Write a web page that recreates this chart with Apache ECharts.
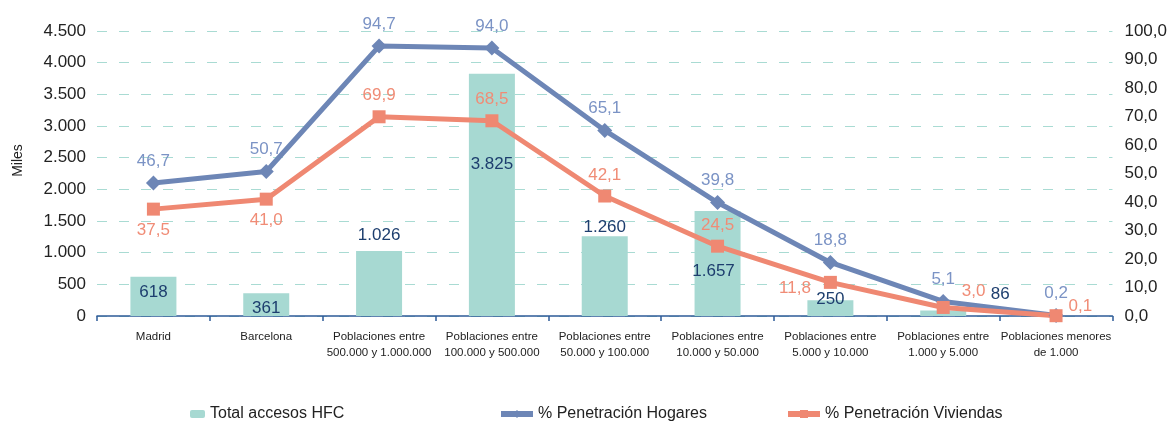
<!DOCTYPE html>
<html>
<head>
<meta charset="utf-8">
<script src="https://cdn.jsdelivr.net/npm/echarts@6/dist/echarts.min.js"></script>
<style>
  html, body { margin: 0; padding: 0; background: #fff; }
  #chart { width: 1170px; height: 422px; }
</style>
</head>
<body>
<div id="chart"></div>
<script>
const categories = [
  "Madrid",
  "Barcelona",
  "Poblaciones entre\n500.000 y 1.000.000",
  "Poblaciones entre\n100.000 y 500.000",
  "Poblaciones entre\n50.000 y 100.000",
  "Poblaciones entre\n10.000 y 50.000",
  "Poblaciones entre\n5.000 y 10.000",
  "Poblaciones entre\n1.000 y 5.000",
  "Poblaciones menores\nde 1.000"
];
const accesosHfc = [618, 361, 1026, 3825, 1260, 1657, 250, 86, 0];
const penHogares = [46.7, 50.7, 94.7, 94.0, 65.1, 39.8, 18.8, 5.1, 0.2];
const penViviendas = [37.5, 41.0, 69.9, 68.5, 42.1, 24.5, 11.8, 3.0, 0.1];

// label placement tweaks
const barLabelOffsets = [[0, 29], [0, 29], [0, -2], [0, 104], [0, 5], [-4, 74], [0, 13], [57, -3], null];
const vivLabelPos = [
  { position: "bottom" }, { position: "bottom" },
  { position: "top" }, { position: "top" }, { position: "top" }, { position: "top" },
  { position: "left", offset: [-7, 6] },
  { position: "right", offset: [6, -16] },
  { position: "right", offset: [0, -9] }
];

const FONT = "Liberation Sans";

function fmtMiles(v) {
  return String(Math.round(v)).replace(/\B(?=(\d{3})+(?!\d))/g, ".");
}
function fmtPct(v) {
  return v.toFixed(1).replace(".", ",");
}

const barData = accesosHfc.map((v, i) => {
  const off = barLabelOffsets[i];
  if (!off) return { value: v, label: { show: false } };
  return { value: v, label: { offset: off } };
});
const vivData = penViviendas.map((v, i) => ({ value: v, label: vivLabelPos[i] }));

const legendText = { fontFamily: FONT, fontSize: 16, color: "#222" };

const chart = echarts.init(document.getElementById("chart"), null, { renderer: "canvas" });
chart.setOption({
  backgroundColor: "#ffffff",
  animation: false,
  textStyle: { fontFamily: FONT },
  grid: { left: 97, right: 57, top: 31, bottom: 106 },
  legend: [
    {
      left: 185, bottom: -5, data: ["Total accesos HFC"],
      itemWidth: 15, itemHeight: 8,
      textStyle: legendText
    },
    {
      left: 493, bottom: -5, data: ["% Penetración Hogares"],
      itemWidth: 32, itemHeight: 10,
      lineStyle: { width: 6 },
      textStyle: legendText
    },
    {
      left: 780, bottom: -5, data: ["% Penetración Viviendas"],
      itemWidth: 32, itemHeight: 10,
      lineStyle: { width: 6 },
      textStyle: legendText
    }
  ],
  xAxis: {
    type: "category",
    data: categories,
    axisLine: { lineStyle: { color: "#2e5b98", width: 1.5 } },
    axisTick: { show: true, length: 5, lineStyle: { color: "#2e5b98", width: 1.5 } },
    axisLabel: {
      interval: 0, margin: 13, lineHeight: 16,
      fontFamily: FONT, fontSize: 11.5, color: "#222"
    }
  },
  yAxis: [
    {
      type: "value",
      min: 0, max: 4500, interval: 500,
      name: "Miles", nameLocation: "middle", nameGap: 72, nameRotate: 90,
      nameTextStyle: { fontSize: 14, color: "#222", padding: [0, 0, 0, 26] },
      axisLine: { show: false },
      axisTick: { show: false },
      axisLabel: { fontSize: 17, color: "#222", margin: 11, formatter: fmtMiles },
      splitLine: { lineStyle: { color: "#a9dbd3", type: [10, 12], width: 1.2 } }
    },
    {
      type: "value",
      min: 0, max: 100, interval: 10,
      axisLine: { show: false },
      axisTick: { show: false },
      axisLabel: { fontSize: 17, color: "#222", margin: 12, formatter: fmtPct },
      splitLine: { show: false }
    }
  ],
  series: [
    {
      name: "Total accesos HFC",
      type: "bar",
      yAxisIndex: 0,
      barWidth: 46,
      itemStyle: { color: "#a7d9d2" },
      label: {
        show: true, position: "top", fontSize: 17, color: "#1d3e6e",
        formatter: (p) => fmtMiles(p.value)
      },
      data: barData
    },
    {
      name: "% Penetración Hogares",
      type: "line",
      yAxisIndex: 1,
      symbol: "diamond",
      symbolSize: 15,
      lineStyle: { color: "#6d86b6", width: 5 },
      itemStyle: { color: "#6d86b6" },
      label: {
        show: true, position: "top", distance: 6, fontSize: 17, color: "#7b93c5",
        formatter: (p) => fmtPct(p.value)
      },
      data: penHogares
    },
    {
      name: "% Penetración Viviendas",
      type: "line",
      yAxisIndex: 1,
      symbol: "rect",
      symbolSize: 13,
      lineStyle: { color: "#ef8872", width: 5 },
      itemStyle: { color: "#ef8872" },
      label: {
        show: true, position: "top", distance: 6, fontSize: 17, color: "#f08c76",
        formatter: (p) => fmtPct(p.value)
      },
      data: vivData
    }
  ]
});
</script>
</body>
</html>
